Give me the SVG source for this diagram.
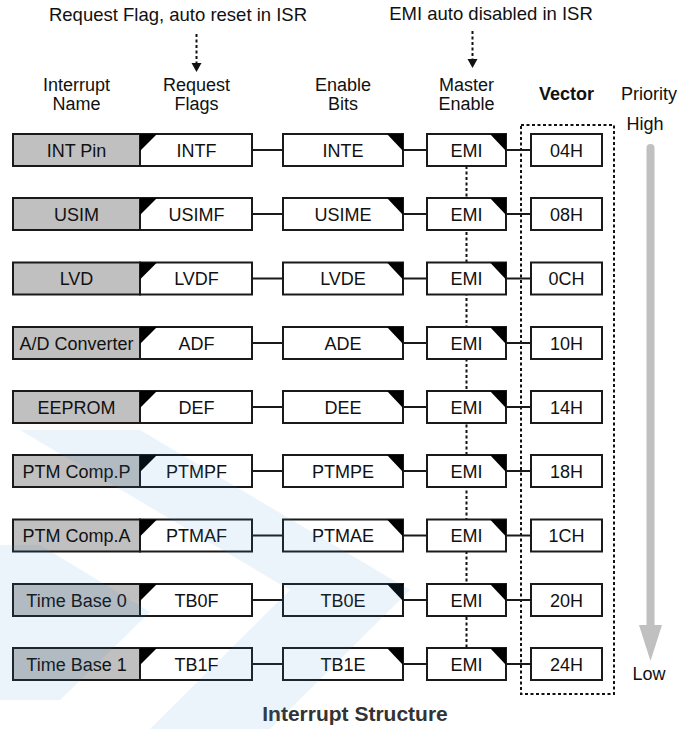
<svg xmlns="http://www.w3.org/2000/svg" width="679" height="729" viewBox="0 0 679 729">
<style>
text{font-family:"Liberation Sans",Arial,sans-serif;font-size:18px;fill:#111;text-anchor:middle}
.b{font-weight:bold}
.cap{font-weight:bold;font-size:21px;fill:#333}
.nm{fill:#c0c0c0;stroke:#1a1a1a;stroke-width:2}
.bx{fill:#fff;stroke:#1a1a1a;stroke-width:2}
.tri{fill:#000}
.ln{stroke:#1a1a1a;stroke-width:2;fill:none}
.dot{stroke:#111;stroke-width:2;fill:none;stroke-dasharray:3 2.5}
.wm{fill:#3d8bd6;fill-opacity:0.1}
</style>
<rect width="679" height="729" fill="#fff"/>
<g id="labels">
<text x="178" y="21" style="font-size:18.5px">Request Flag, auto reset in ISR</text>
<text x="491" y="20" style="font-size:18.5px">EMI auto disabled in ISR</text>
<text x="76.5" y="91">Interrupt</text><text x="76.5" y="110">Name</text>
<text x="196.5" y="91">Request</text><text x="196.5" y="110">Flags</text>
<text x="343" y="91">Enable</text><text x="343" y="110">Bits</text>
<text x="466.5" y="91">Master</text><text x="466.5" y="110">Enable</text>
<text class="b" x="566.5" y="100">Vector</text>
<text x="649" y="100">Priority</text>
<text x="645" y="130">High</text>
<text x="649" y="680">Low</text>
<text class="cap" x="355" y="721">Interrupt Structure</text>
</g>
<g id="connectors">
<line class="dot" x1="196.5" y1="34" x2="196.5" y2="64"/>
<polygon points="191.5,63 201.5,63 196.5,72" fill="#111"/>
<line class="dot" x1="472.5" y1="31" x2="472.5" y2="60"/>
<polygon points="467.5,59 477.5,59 472.5,68" fill="#111"/>
<line class="dot" x1="466.5" y1="166" x2="466.5" y2="648"/>
<rect class="dot" x="521" y="125" width="93" height="569"/>
<line x1="650.5" y1="148" x2="650.5" y2="627" stroke="#c0c0c0" stroke-width="8" stroke-linecap="round"/>
<polygon points="639,625 662,625 650.5,661" fill="#c0c0c0"/>
<g class="ln">
<path d="M252,150H283M403,150H427M506,150H531"/>
<path d="M252,214H283M403,214H427M506,214H531"/>
<path d="M252,278.5H283M403,278.5H427M506,278.5H531"/>
<path d="M252,343H283M403,343H427M506,343H531"/>
<path d="M252,407H283M403,407H427M506,407H531"/>
<path d="M252,471H283M403,471H427M506,471H531"/>
<path d="M252,535.5H283M403,535.5H427M506,535.5H531"/>
<path d="M252,600H283M403,600H427M506,600H531"/>
<path d="M252,664H283M403,664H427M506,664H531"/>
</g>
</g>
<defs>
<g id="fl"><rect class="bx" x="140" y="0" width="112" height="32"/><path class="tri" d="M140,0H157L140,17Z"/></g>
<g id="en"><rect class="bx" x="283" y="0" width="120" height="32"/><path class="tri" d="M387,0H403V17Z"/></g>
<g id="em"><rect class="bx" x="427" y="0" width="79" height="32"/><path class="tri" d="M490,0H506V17Z"/><text x="466.5" y="22.5">EMI</text></g>
<rect id="vc" class="bx" x="531" y="0" width="71" height="32"/>
<rect id="nb" class="nm" x="13" y="0" width="127" height="32"/>
</defs>
<g id="row0">
<g id="name0" transform="translate(0,134)"><use href="#nb"/><text x="76.5" y="22.5">INT Pin</text></g>
<g id="flag0" transform="translate(0,134)"><use href="#fl"/><text x="196.5" y="22.5">INTF</text></g>
<g id="en0" transform="translate(0,134)"><use href="#en"/><text x="343" y="22.5">INTE</text></g>
<g id="emi0" transform="translate(0,134)"><use href="#em"/></g>
<g id="vec0" transform="translate(0,134)"><use href="#vc"/><text x="566.5" y="22.5">04H</text></g>
</g>
<g id="row1">
<g id="name1" transform="translate(0,198)"><use href="#nb"/><text x="76.5" y="22.5">USIM</text></g>
<g id="flag1" transform="translate(0,198)"><use href="#fl"/><text x="196.5" y="22.5">USIMF</text></g>
<g id="en1" transform="translate(0,198)"><use href="#en"/><text x="343" y="22.5">USIME</text></g>
<g id="emi1" transform="translate(0,198)"><use href="#em"/></g>
<g id="vec1" transform="translate(0,198)"><use href="#vc"/><text x="566.5" y="22.5">08H</text></g>
</g>
<g id="row2">
<g id="name2" transform="translate(0,262.5)"><use href="#nb"/><text x="76.5" y="22.5">LVD</text></g>
<g id="flag2" transform="translate(0,262.5)"><use href="#fl"/><text x="196.5" y="22.5">LVDF</text></g>
<g id="en2" transform="translate(0,262.5)"><use href="#en"/><text x="343" y="22.5">LVDE</text></g>
<g id="emi2" transform="translate(0,262.5)"><use href="#em"/></g>
<g id="vec2" transform="translate(0,262.5)"><use href="#vc"/><text x="566.5" y="22.5">0CH</text></g>
</g>
<g id="row3">
<g id="name3" transform="translate(0,327)"><use href="#nb"/><text x="76.5" y="22.5">A/D Converter</text></g>
<g id="flag3" transform="translate(0,327)"><use href="#fl"/><text x="196.5" y="22.5">ADF</text></g>
<g id="en3" transform="translate(0,327)"><use href="#en"/><text x="343" y="22.5">ADE</text></g>
<g id="emi3" transform="translate(0,327)"><use href="#em"/></g>
<g id="vec3" transform="translate(0,327)"><use href="#vc"/><text x="566.5" y="22.5">10H</text></g>
</g>
<g id="row4">
<g id="name4" transform="translate(0,391)"><use href="#nb"/><text x="76.5" y="22.5">EEPROM</text></g>
<g id="flag4" transform="translate(0,391)"><use href="#fl"/><text x="196.5" y="22.5">DEF</text></g>
<g id="en4" transform="translate(0,391)"><use href="#en"/><text x="343" y="22.5">DEE</text></g>
<g id="emi4" transform="translate(0,391)"><use href="#em"/></g>
<g id="vec4" transform="translate(0,391)"><use href="#vc"/><text x="566.5" y="22.5">14H</text></g>
</g>
<g id="row5">
<g id="name5" transform="translate(0,455)"><use href="#nb"/><text x="76.5" y="22.5">PTM Comp.P</text></g>
<g id="flag5" transform="translate(0,455)"><use href="#fl"/><text x="196.5" y="22.5">PTMPF</text></g>
<g id="en5" transform="translate(0,455)"><use href="#en"/><text x="343" y="22.5">PTMPE</text></g>
<g id="emi5" transform="translate(0,455)"><use href="#em"/></g>
<g id="vec5" transform="translate(0,455)"><use href="#vc"/><text x="566.5" y="22.5">18H</text></g>
</g>
<g id="row6">
<g id="name6" transform="translate(0,519.5)"><use href="#nb"/><text x="76.5" y="22.5">PTM Comp.A</text></g>
<g id="flag6" transform="translate(0,519.5)"><use href="#fl"/><text x="196.5" y="22.5">PTMAF</text></g>
<g id="en6" transform="translate(0,519.5)"><use href="#en"/><text x="343" y="22.5">PTMAE</text></g>
<g id="emi6" transform="translate(0,519.5)"><use href="#em"/></g>
<g id="vec6" transform="translate(0,519.5)"><use href="#vc"/><text x="566.5" y="22.5">1CH</text></g>
</g>
<g id="row7">
<g id="name7" transform="translate(0,584)"><use href="#nb"/><text x="76.5" y="22.5">Time Base 0</text></g>
<g id="flag7" transform="translate(0,584)"><use href="#fl"/><text x="196.5" y="22.5">TB0F</text></g>
<g id="en7" transform="translate(0,584)"><use href="#en"/><text x="343" y="22.5">TB0E</text></g>
<g id="emi7" transform="translate(0,584)"><use href="#em"/></g>
<g id="vec7" transform="translate(0,584)"><use href="#vc"/><text x="566.5" y="22.5">20H</text></g>
</g>
<g id="row8">
<g id="name8" transform="translate(0,648)"><use href="#nb"/><text x="76.5" y="22.5">Time Base 1</text></g>
<g id="flag8" transform="translate(0,648)"><use href="#fl"/><text x="196.5" y="22.5">TB1F</text></g>
<g id="en8" transform="translate(0,648)"><use href="#en"/><text x="343" y="22.5">TB1E</text></g>
<g id="emi8" transform="translate(0,648)"><use href="#em"/></g>
<g id="vec8" transform="translate(0,648)"><use href="#vc"/><text x="566.5" y="22.5">24H</text></g>
</g>
<g id="watermark">
<polygon class="wm" points="20,430 140,430 410,590 270,729 150,729 290,590"/>
<polygon class="wm" points="0,545 40,545 150,612 60,700 0,700"/>
</g>
</svg>
